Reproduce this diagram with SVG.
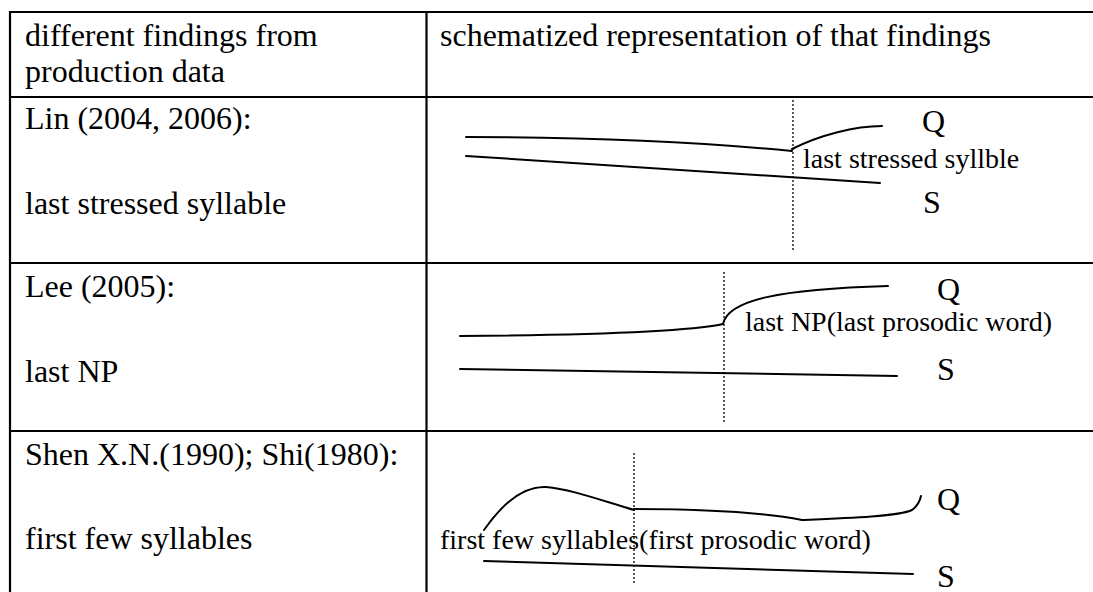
<svg xmlns="http://www.w3.org/2000/svg" width="1093" height="592" viewBox="0 0 1093 592">
<style>
  .grid { stroke: #000; stroke-width: 2.2; fill: none; }
  .t { font-family: "Liberation Serif", "Times New Roman", serif; font-size: 32px; fill: #000; }
  .lbl { font-family: "Liberation Serif", "Times New Roman", serif; font-size: 28px; fill: #000; }
  .curve { stroke: #000; stroke-width: 2; fill: none; stroke-linecap: round; }
  .dot { stroke: #000; stroke-width: 1.3; stroke-dasharray: 2 2; fill: none; }
</style>
<rect width="1093" height="592" fill="#fff"/>
<g id="table-grid">
  <line class="grid" x1="9" y1="12" x2="1093" y2="12"/>
  <line class="grid" x1="10" y1="11" x2="10" y2="592"/>
  <line class="grid" x1="426.5" y1="11" x2="426.5" y2="592"/>
  <line class="grid" x1="9" y1="97" x2="1093" y2="97"/>
  <line class="grid" x1="9" y1="263" x2="1093" y2="263"/>
  <line class="grid" x1="9" y1="431" x2="1093" y2="431"/>
</g>
<g id="header">
  <text class="t" x="25" y="46">different findings from</text>
  <text class="t" x="25" y="82">production data</text>
  <text class="t" x="440" y="46">schematized representation of that findings</text>
</g>
<g id="row-lin">
  <text class="t" x="25" y="129">Lin (2004, 2006):</text>
  <text class="t" x="25" y="214">last stressed syllable</text>
</g>
<g id="row-lee">
  <text class="t" x="25" y="297">Lee (2005):</text>
  <text class="t" x="25" y="382">last NP</text>
</g>
<g id="row-shen">
  <text class="t" x="25" y="465">Shen X.N.(1990); Shi(1980):</text>
  <text class="t" x="25" y="549">first few syllables</text>
</g>
<g id="schema-lin">
  <text class="t" x="922" y="132">Q</text>
  <text class="lbl" x="803" y="168">last stressed syllble</text>
  <text class="t" x="923" y="213">S</text>
</g>
<g id="schema-lee">
  <text class="t" x="937" y="300">Q</text>
  <text class="lbl" x="745" y="331">last NP(last prosodic word)</text>
  <text class="t" x="937" y="380">S</text>
</g>
<g id="schema-shen">
  <text class="t" x="937" y="510">Q</text>
  <text class="lbl" x="440" y="549" font-size="27.4">first few syllables(first prosodic word)</text>
  <text class="t" x="937" y="587">S</text>
</g>
<g id="connectors">
  <line class="dot" x1="793" y1="100" x2="793" y2="250"/>
  <path class="curve" d="M466,137 C600,137 700,142 792,151"/>
  <path class="curve" d="M792,149 C820,135 855,126 882,126"/>
  <path class="curve" d="M466,156 L880,183"/>
  <line class="dot" x1="724" y1="272" x2="724" y2="422"/>
  <path class="curve" d="M460,336 C600,335 690,331 723,324"/>
  <path class="curve" d="M723,324 C728,300 780,289 888,286"/>
  <path class="curve" d="M460,369 L897,376"/>
  <line class="dot" x1="634" y1="453" x2="634" y2="583"/>
  <path class="curve" d="M484,530 C505,500 525,486 546,487 C570,489 600,500 634,510"/>
  <path class="curve" d="M634,509 C700,509 760,512 802,520"/>
  <path class="curve" d="M802,520 C850,518 900,516 912,510 Q919,505 921,496"/>
  <path class="curve" d="M484,561 L913,574"/>
</g>
</svg>
